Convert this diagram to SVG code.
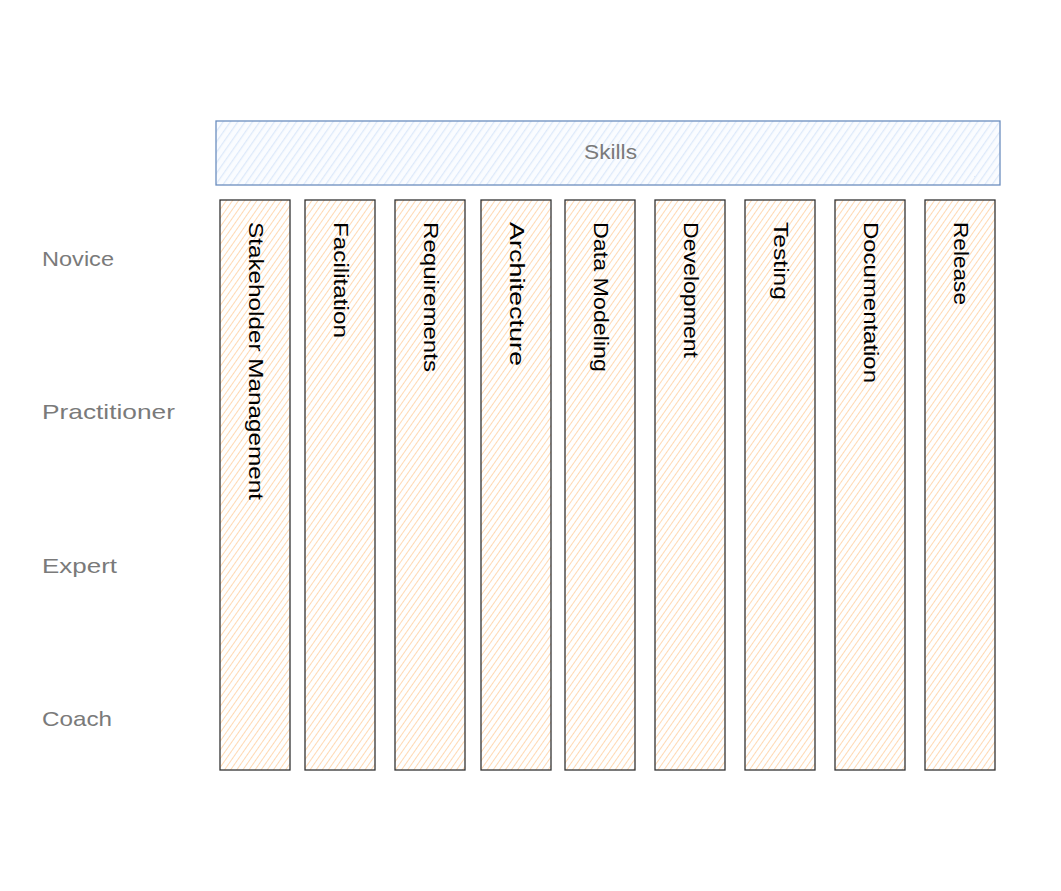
<svg xmlns="http://www.w3.org/2000/svg" width="1061" height="891" viewBox="0 0 1061 891">
<style>
.lvl{font-family:"Liberation Sans",sans-serif;font-size:21px;fill:#7a7a7a;dominant-baseline:middle}
.col{fill:url(#hatchO);stroke:#333;stroke-width:1.3}
.ct{font-family:"Liberation Sans",sans-serif;font-size:21px;fill:#000;dominant-baseline:middle}
</style>
<defs>
<pattern id="hatchO" patternUnits="userSpaceOnUse" width="5" height="5" patternTransform="rotate(35)">
<rect width="5" height="5" fill="#fff"/>
<line x1="0" y1="0" x2="0" y2="5" stroke="#ffd9b3" stroke-width="2"/>
</pattern>
<pattern id="hatchB" patternUnits="userSpaceOnUse" width="6" height="6" patternTransform="rotate(35)">
<rect width="6" height="6" fill="#fafcff"/>
<line x1="0" y1="0" x2="0" y2="6" stroke="#dde9fa" stroke-width="2.5"/>
</pattern>
</defs>
<rect width="1061" height="891" fill="#fff"/>
<g id="skills">
<rect x="216" y="121" width="784" height="64" fill="url(#hatchB)" stroke="#6c8ebf" stroke-width="1.3"/>
<text x="584" y="153" class="lvl" textLength="53" lengthAdjust="spacingAndGlyphs">Skills</text>
</g>
<g id="levels">
<text x="42" y="260" class="lvl" textLength="72" lengthAdjust="spacingAndGlyphs">Novice</text>
<text x="42" y="413" class="lvl" textLength="133" lengthAdjust="spacingAndGlyphs">Practitioner</text>
<text x="42" y="567" class="lvl" textLength="75" lengthAdjust="spacingAndGlyphs">Expert</text>
<text x="42" y="720" class="lvl" textLength="70" lengthAdjust="spacingAndGlyphs">Coach</text>
</g>
<g id="col-stakeholder"><rect class="col" x="220" y="200" width="70" height="570"/><text class="ct" transform="translate(255,222) rotate(90)" textLength="278" lengthAdjust="spacingAndGlyphs">Stakeholder Management</text></g>
<g id="col-facilitation"><rect class="col" x="305" y="200" width="70" height="570"/><text class="ct" transform="translate(340,222) rotate(90)" textLength="116" lengthAdjust="spacingAndGlyphs">Facilitation</text></g>
<g id="col-requirements"><rect class="col" x="395" y="200" width="70" height="570"/><text class="ct" transform="translate(430,222) rotate(90)" textLength="150" lengthAdjust="spacingAndGlyphs">Requirements</text></g>
<g id="col-architecture"><rect class="col" x="481" y="200" width="70" height="570"/><text class="ct" transform="translate(516,222) rotate(90)" textLength="144" lengthAdjust="spacingAndGlyphs">Architecture</text></g>
<g id="col-datamodeling"><rect class="col" x="565" y="200" width="70" height="570"/><text class="ct" transform="translate(600,222) rotate(90)" textLength="150" lengthAdjust="spacingAndGlyphs">Data Modeling</text></g>
<g id="col-development"><rect class="col" x="655" y="200" width="70" height="570"/><text class="ct" transform="translate(690,222) rotate(90)" textLength="136" lengthAdjust="spacingAndGlyphs">Development</text></g>
<g id="col-testing"><rect class="col" x="745" y="200" width="70" height="570"/><text class="ct" transform="translate(780,222) rotate(90)" textLength="78" lengthAdjust="spacingAndGlyphs">Testing</text></g>
<g id="col-documentation"><rect class="col" x="835" y="200" width="70" height="570"/><text class="ct" transform="translate(870,222) rotate(90)" textLength="161" lengthAdjust="spacingAndGlyphs">Documentation</text></g>
<g id="col-release"><rect class="col" x="925" y="200" width="70" height="570"/><text class="ct" transform="translate(960,222) rotate(90)" textLength="83" lengthAdjust="spacingAndGlyphs">Release</text></g>
<g id="connectors"/>
</svg>
